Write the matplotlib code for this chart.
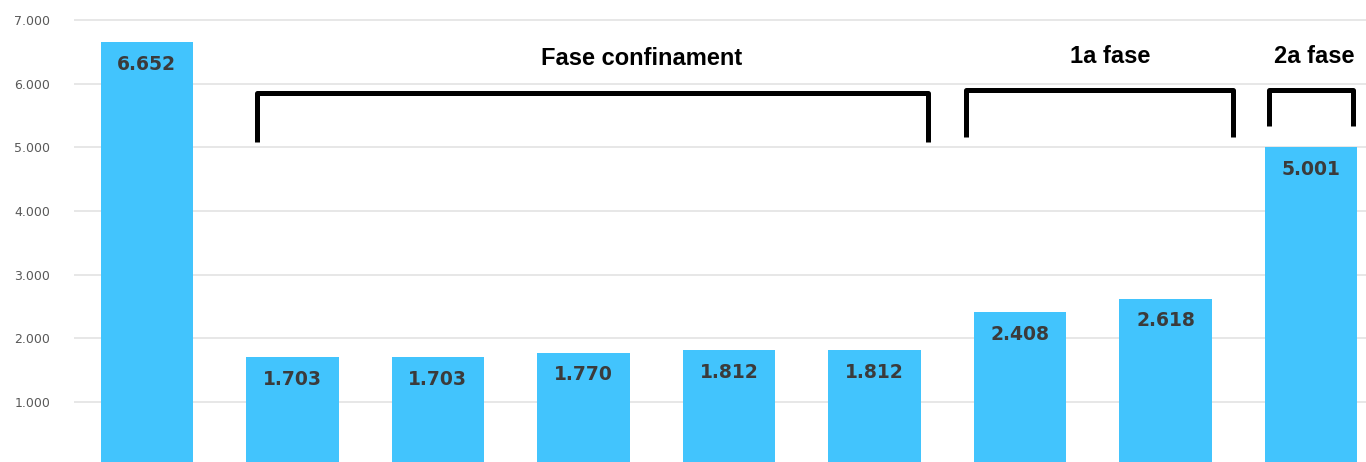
import matplotlib.pyplot as plt
from matplotlib.ticker import FuncFormatter

# ---- dades ----
valors = [6652, 1703, 1703, 1770, 1812, 1812, 2408, 2618, 5001]
etiquetes = ["6.652", "1.703", "1.703", "1.770", "1.812", "1.812", "2.408", "2.618", "5.001"]
yticks = [1000, 2000, 3000, 4000, 5000, 6000, 7000]
fases = ["Fase confinament", "1a fase", "2a fase"]
# --------------

# claudàtors: (x esquerra, x dreta, y base, y dalt, x text, y text)
claudators = [
    (0.76, 5.37, 5080, 5855, 3.40, 6390),
    (5.63, 7.46, 5160, 5900, 6.62, 6420),
    (7.71, 8.29, 5335, 5900, 8.02, 6420),
]

BLAU = "#42C4FD"

fig = plt.figure(figsize=(13.66, 4.62), dpi=100)
ax = fig.add_axes([74 / 1366, 0, 1 - 74 / 1366, 1])

x = range(len(valors))
ax.bar(x, valors, width=0.635, color=BLAU, zorder=2)

for xi, v, lab in zip(x, valors, etiquetes):
    ax.text(xi, v - 345, lab, ha="center", va="center", fontsize=13.5,
            fontweight="bold", color="#3b3b3b", zorder=3)

for (x0, x1, yb, yt, xt, yt_txt), nom in zip(claudators, fases):
    ax.plot([x0, x0, x1, x1], [yb, yt, yt, yb], color="black", lw=3.6,
            solid_joinstyle="round", solid_capstyle="butt", zorder=4)
    ax.text(xt, yt_txt, nom, ha="center", va="center", fontsize=17,
            fontweight="bold", family="Liberation Sans", color="black")

ax.set_xlim(-0.5, 8.377)
ax.set_ylim(58, 7314)
ax.set_yticks(yticks)
ax.yaxis.set_major_formatter(FuncFormatter(lambda v, p: f"{int(v):,}".replace(",", ".")))
ax.tick_params(axis="y", length=0, pad=17, labelsize=9, labelcolor="#595959")
ax.set_xticks([])
ax.grid(axis="y", color="#e3e3e3", lw=1.2, zorder=0)
for s in ax.spines.values():
    s.set_visible(False)

fig.savefig("out.png", dpi=100)
